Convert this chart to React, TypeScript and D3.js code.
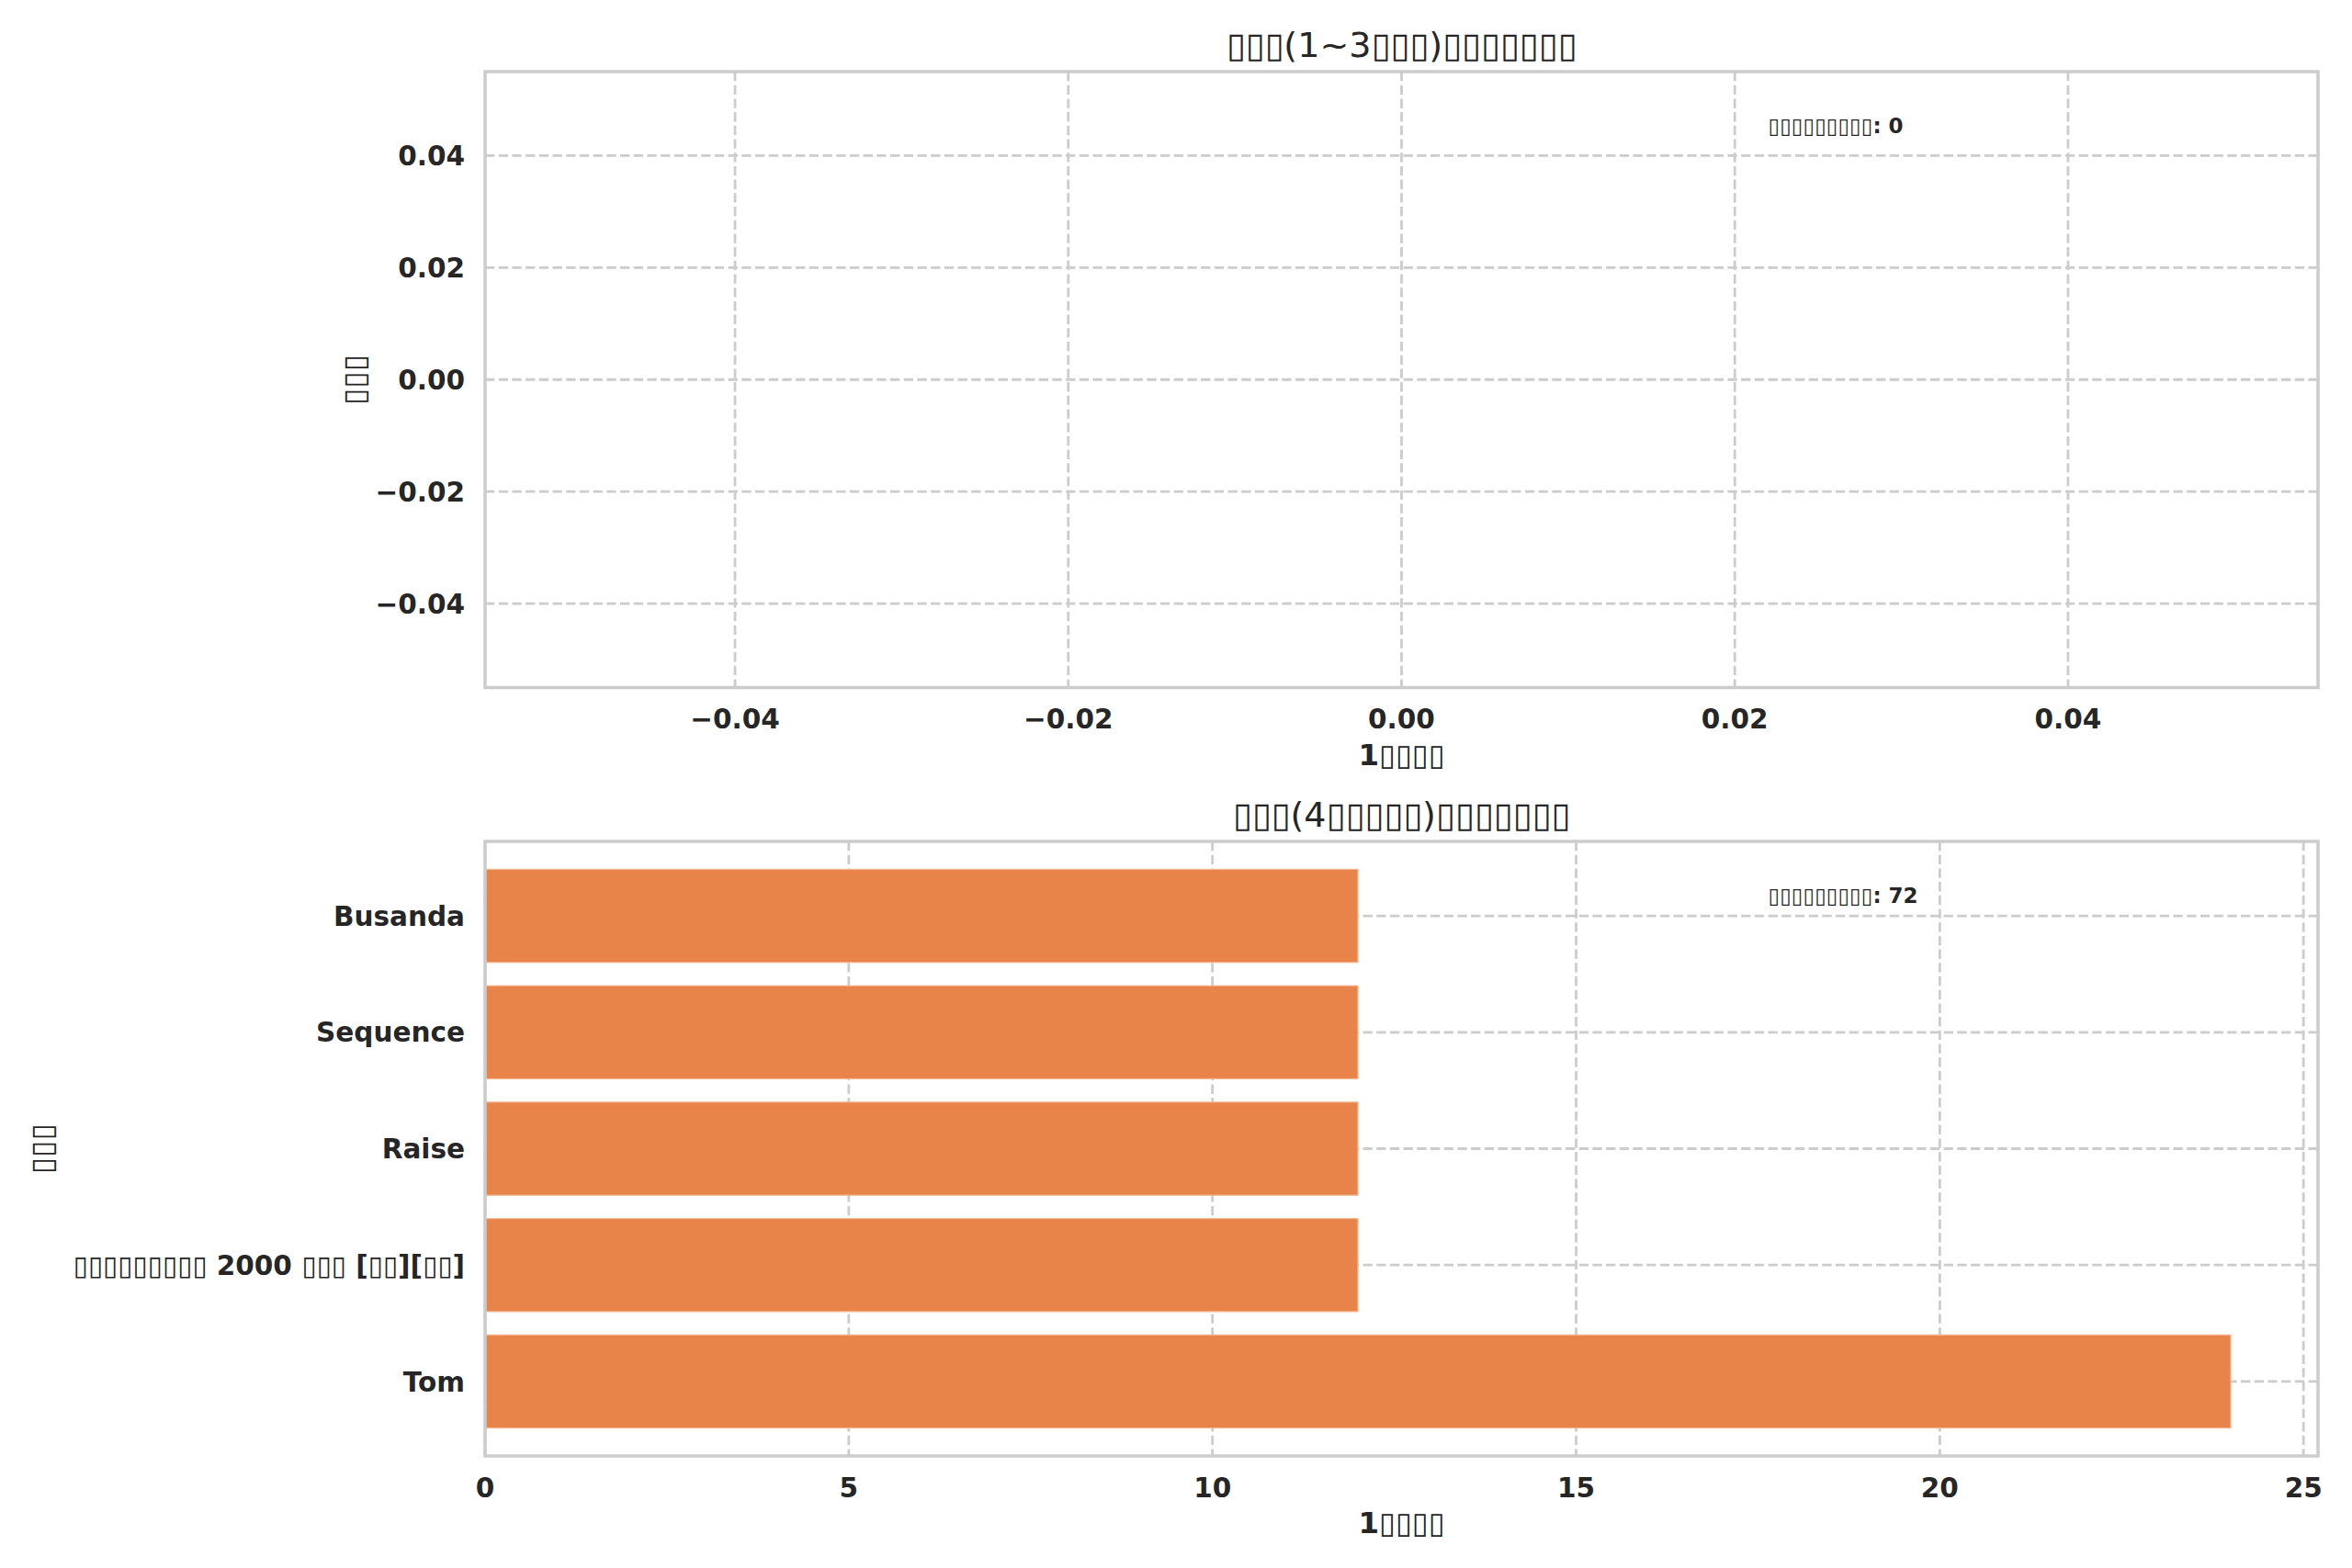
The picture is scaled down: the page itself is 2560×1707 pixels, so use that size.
import { useEffect } from "react";
import * as d3 from "d3";

// Glyphs the source rendered as missing-glyph boxes are kept as "▯"
const topTitle = "▯▯▯(1~3▯▯▯)▯▯▯▯▯▯▯";
const bottomTitle = "▯▯▯(4▯▯▯▯▯)▯▯▯▯▯▯▯";
const xLabel = "1▯▯▯▯";
const yLabel = "▯▯▯";
const totalLabel = "▯▯▯▯▯▯▯▯▯";

const topValues: number[] = [];
const topTicks = [-0.04, -0.02, 0, 0.02, 0.04];

const categories = ["Busanda", "Sequence", "Raise", "▯▯▯▯▯▯▯▯▯ 2000 ▯▯▯ [▯▯][▯▯]", "Tom"];
const counts = [12, 12, 12, 12, 24];
const countTicks = [0, 5, 10, 15, 20, 25];

const W = 2560;
const H = 1707;
const left = 528;
const right = 2523;
const top1 = 78;
const bottom1 = 748.5;
const top2 = 916;
const bottom2 = 1585;

const FONT = "'DejaVu Sans', sans-serif";
const TEXT = "#262626";
const GRID = "#cccccc";
const BAR = "#e8844a";

const App = () => {
  useEffect(() => {
    document.body.style.margin = "0";
  }, []);

  // top (empty) chart scales
  const x1 = d3.scaleLinear().domain([-0.055, 0.055]).range([left, right]);
  const y1 = d3.scaleLinear().domain([-0.055, 0.055]).range([bottom1, top1]);
  const fmt = d3.format(".2f");

  // bottom bar chart scales
  const maxCount = d3.max(counts) as number;
  const x2 = d3.scaleLinear().domain([0, maxCount * 1.05]).range([left, right]);
  const y2 = d3.scaleBand<string>()
    .domain(categories)
    .range([top2, bottom2])
    .paddingInner(0.2)
    .paddingOuter(0.24);

  const frame = (t: number, b: number) => (
    <rect x={left} y={t} width={right - left} height={b - t}
      fill="none" stroke={GRID} strokeWidth={3.5} />
  );

  const gridProps = { stroke: GRID, strokeWidth: 2.8, strokeDasharray: "10.3,4.4" };
  const tickSize = 29.5;

  return (
    <svg width={W} height={H} style={{ display: "block", background: "#fff" }} fontFamily={FONT}>
      {/* ---------- top chart ---------- */}
      <g>
        {topTicks.map(t => (
          <line key={"gx" + t} x1={x1(t)} x2={x1(t)} y1={top1} y2={bottom1} {...gridProps} />
        ))}
        {topTicks.map(t => (
          <line key={"gy" + t} x1={left} x2={right} y1={y1(t)} y2={y1(t)} {...gridProps} />
        ))}
        {topValues.map((v, i) => (
          <circle key={i} cx={x1(v)} cy={y1(v)} r={4} fill={BAR} />
        ))}
        {frame(top1, bottom1)}
        {topTicks.map(t => (
          <text key={"tx" + t} x={x1(t)} y={bottom1 + 44.5} textAnchor="middle"
            fontSize={tickSize} fontWeight="bold" fill={TEXT}>{fmt(t)}</text>
        ))}
        {topTicks.map(t => (
          <text key={"ty" + t} x={left - 22} y={y1(t)} dy="0.36em" textAnchor="end"
            fontSize={tickSize} fontWeight="bold" fill={TEXT}>{fmt(t)}</text>
        ))}
        <text x={(left + right) / 2} y={top1 - 16} textAnchor="middle" fontSize={38} fill={TEXT}>
          {topTitle}
        </text>
        <text x={(left + right) / 2} y={bottom1 + 84} textAnchor="middle" fontSize={32.5}
          fontWeight="bold" fill={TEXT}>{xLabel}</text>
        <text transform={`translate(397,${(top1 + bottom1) / 2}) rotate(-90)`} textAnchor="middle"
          fontSize={33.3} fontWeight="bold" fill={TEXT}>{yLabel}</text>
        <text x={left + 0.7 * (right - left)} y={bottom1 - 0.9 * (bottom1 - top1)}
          fontSize={23} fontWeight="bold" fill={TEXT}>
          {`${totalLabel}: ${d3.sum(topValues)}`}
        </text>
      </g>

      {/* ---------- bottom chart ---------- */}
      <g>
        {countTicks.map(t => (
          <line key={"gx" + t} x1={x2(t)} x2={x2(t)} y1={top2} y2={bottom2} {...gridProps} />
        ))}
        {categories.map(c => (
          <line key={"gy" + c} x1={left} x2={right}
            y1={(y2(c) as number) + y2.bandwidth() / 2} y2={(y2(c) as number) + y2.bandwidth() / 2}
            {...gridProps} />
        ))}
        {categories.map((c, i) => (
          <rect key={"b" + c} x={x2(0)} y={y2(c)} width={x2(counts[i]) - x2(0)} height={y2.bandwidth()}
            fill={BAR} stroke="#f4b894" strokeWidth={1.2} />
        ))}
        {frame(top2, bottom2)}
        {countTicks.map(t => (
          <text key={"tx" + t} x={x2(t)} y={bottom2 + 44.5} textAnchor="middle"
            fontSize={tickSize} fontWeight="bold" fill={TEXT}>{t}</text>
        ))}
        {categories.map(c => (
          <text key={"ty" + c} x={left - 22} y={(y2(c) as number) + y2.bandwidth() / 2} dy="0.36em"
            textAnchor="end" fontSize={tickSize} fontWeight="bold" fill={TEXT}>{c}</text>
        ))}
        <text x={(left + right) / 2} y={top2 - 16} textAnchor="middle" fontSize={38} fill={TEXT}>
          {bottomTitle}
        </text>
        <text x={(left + right) / 2} y={bottom2 + 84} textAnchor="middle" fontSize={32.5}
          fontWeight="bold" fill={TEXT}>{xLabel}</text>
        <text transform={`translate(57,${(top2 + bottom2) / 2}) rotate(-90)`} textAnchor="middle"
          fontSize={33.3} fontWeight="bold" fill={TEXT}>{yLabel}</text>
        <text x={left + 0.7 * (right - left)} y={bottom2 - 0.9 * (bottom2 - top2)}
          fontSize={23} fontWeight="bold" fill={TEXT}>
          {`${totalLabel}: ${d3.sum(counts)}`}
        </text>
      </g>
    </svg>
  );
};

export default App;
